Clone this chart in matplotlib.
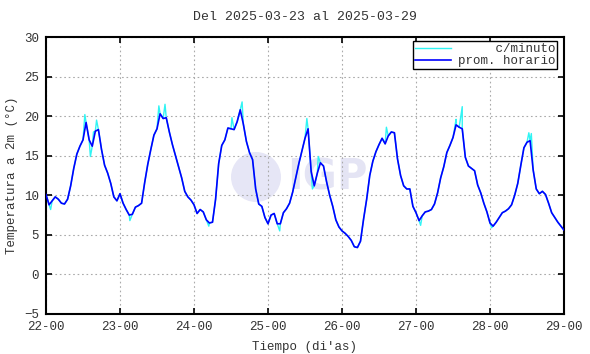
import matplotlib
matplotlib.use("Agg")
import matplotlib.pyplot as plt
import numpy as np
from matplotlib.patches import Circle

# hourly mean temperature from 2025-03-22 00h to 2025-03-29 00h
hourly_temp = [
    10.1, 8.8, 9.3, 9.8, 9.5, 9.0, 8.9, 9.5, 11.2, 13.4, 15.2, 16.2, 17.0, 19.2, 17.0, 16.2,
    18.1, 18.3, 15.8, 13.8, 12.8, 11.5, 9.8, 9.3,
    10.2, 9.0, 8.2, 7.5, 7.6, 8.5, 8.7, 9.0, 11.6, 13.9, 15.8, 17.6, 18.4, 20.3, 19.7, 19.8,
    18.0, 16.4, 15.0, 13.6, 12.2, 10.5, 9.8, 9.4,
    8.8, 7.7, 8.2, 7.9, 6.9, 6.5, 6.6, 9.5, 14.0, 16.3, 17.0, 18.5, 18.4, 18.3, 19.3, 20.8,
    19.0, 16.8, 15.4, 14.5, 10.8, 8.9, 8.6, 7.2,
    6.4, 7.5, 7.7, 6.4, 6.4, 7.8, 8.3, 9.0, 10.4, 12.2, 14.0, 15.6, 17.2, 18.4, 13.0, 11.2,
    12.8, 14.1, 13.7, 11.7, 10.0, 8.6, 6.9, 6.0,
    5.5, 5.2, 4.8, 4.3, 3.5, 3.4, 4.2, 7.0, 9.5, 12.5, 14.3, 15.5, 16.4, 17.2, 16.5, 17.5,
    18.0, 17.9, 14.6, 12.5, 11.2, 10.8, 10.8, 8.6,
    7.8, 6.8, 7.4, 7.9, 8.0, 8.2, 8.9, 10.3, 12.2, 13.6, 15.4, 16.3, 17.3, 18.9, 18.6, 18.4,
    14.8, 13.7, 13.4, 13.1, 11.3, 10.3, 9.0, 7.9,
    6.5, 6.1, 6.6, 7.2, 7.8, 8.0, 8.3, 8.8, 10.0, 11.5, 13.8, 16.0, 16.7, 16.9, 13.2, 10.8,
    10.2, 10.5, 10.1, 9.0, 7.8, 7.2, 6.6, 6.1,
    5.6,
]

# extra per-minute excursions (hour, temperature)
spike_hours = [1.5, 12.6, 14.4, 15.4, 16.4, 27.2, 36.6, 38.6, 52.8, 60.3, 63.6, 75.8,
               84.6, 86.4, 88.3, 110.4, 121.5, 133.0, 135.0, 144.5, 156.6, 157.4]
spike_temps = [8.2, 20.2, 14.9, 18.0, 19.5, 6.8, 21.3, 21.5, 6.1, 19.8, 21.8, 5.5,
               19.7, 10.8, 14.9, 18.6, 6.2, 19.6, 21.2, 5.9, 17.9, 17.8]

day_labels = ["22-00", "23-00", "24-00", "25-00", "26-00", "27-00", "28-00", "29-00"]
y_ticks = [-5, 0, 5, 10, 15, 20, 25, 30]

MONO = "Liberation Mono"
TXT = "#333333"


def main() -> int:
    plt.rcParams["font.family"] = [MONO, "DejaVu Sans Mono"]
    plt.rcParams["font.size"] = 9

    hours = np.arange(len(hourly_temp), dtype=float)
    min_h = np.concatenate([hours, np.array(spike_hours)])
    min_t = np.concatenate([np.array(hourly_temp), np.array(spike_temps)])
    order = np.argsort(min_h)
    min_h, min_t = min_h[order], min_t[order]

    fig = plt.figure(figsize=(5.9, 3.54), dpi=100)
    ax = fig.add_axes([46 / 590, 40 / 354, 518 / 590, 277 / 354])

    # faint IGP watermark, kept under the data lines
    ax.add_patch(Circle((256, 177), 25, transform=None, fc="#e6e6f6", ec="none", zorder=0))
    ax.text(287, 354 - 178, "IGP", transform=None, fontsize=30, fontweight="bold",
            family="DejaVu Sans", color="#e4e4f4", va="center", ha="left", zorder=0)

    ax.plot(min_h / 24, min_t, color="#30f4f4", lw=1.0, label="     c/minuto", zorder=2)
    ax.plot(hours / 24, hourly_temp, color="#0000ff", lw=1.2, label="prom. horario", zorder=3)

    ax.set_xlim(0, 7)
    ax.set_ylim(-5, 30)
    ax.set_xticks(range(len(day_labels)))
    ax.set_xticklabels(day_labels)
    ax.set_yticks(y_ticks)
    ax.tick_params(direction="in", length=4, width=1.2, top=True, right=True,
                   colors="black", labelcolor=TXT, pad=5)
    ax.grid(True, color="#aaaaaa", linestyle=(0, (1.5, 2.5)), linewidth=0.8)
    for sp in ax.spines.values():
        sp.set_linewidth(1.5)

    ax.set_title("Del 2025-03-23 al 2025-03-29", color=TXT, fontsize=9.5, pad=12)
    ax.set_xlabel("Tiempo (di'as)", color=TXT, labelpad=6)
    ax.set_ylabel("Temperatura a 2m (°C)", color=TXT, labelpad=4)

    leg = ax.legend(loc="upper right", bbox_to_anchor=(557 / 590, 1 - 41 / 354),
                    bbox_transform=fig.transFigure, borderaxespad=0,
                    fancybox=False, edgecolor="black", framealpha=1,
                    handlelength=2.9, borderpad=0.15, labelspacing=0.0,
                    handletextpad=0.5, fontsize=9)
    leg.get_frame().set_linewidth(1.0)
    for t in leg.get_texts():
        t.set_color(TXT)

    fig.savefig("out.png", dpi=100)
    plt.close(fig)
    return 0


if __name__ == "__main__":
    raise SystemExit(main())
